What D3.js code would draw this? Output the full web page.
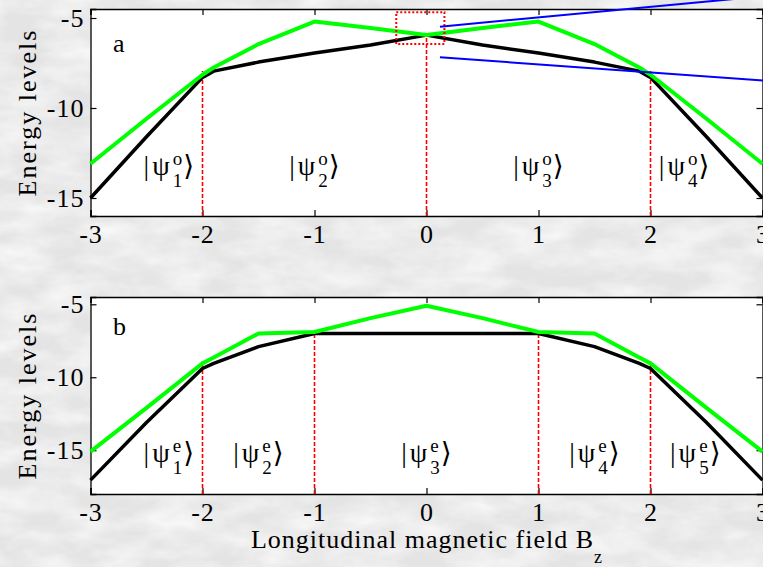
<!DOCTYPE html>
<html>
<head>
<meta charset="utf-8">
<script src="https://cdn.jsdelivr.net/npm/d3@7"></script>
<style>
  html, body { margin: 0; padding: 0; background: #e9e9e9; overflow: hidden; }
  svg { display: block; }
  text { font-family: "Liberation Serif", "Times New Roman", "DejaVu Serif", serif; fill: #000; }
</style>
</head>
<body>
<svg id="chart" width="763" height="567"></svg>
<script>
// ── Data ─────────────────────────────────────────────────────────
const BZ = [-3, -2.5, -2, -1.9, -1.5, -1, -0.5, 0, 0.5, 1, 1.5, 1.9, 2, 2.5, 3];

// panel a (odd states)
const ODD_BLACK = [-15, -11.6, -8.3, -7.95, -7.45, -6.95, -6.5, -5.95, -6.5, -6.95, -7.45, -7.95, -8.3, -11.6, -15];
const ODD_GREEN = [-13.1, -10.6, -8.15, -7.75, -6.45, -5.2, -5.55, -5.95, -5.55, -5.2, -6.45, -7.75, -8.15, -10.6, -13.1];
const ODD_BOUNDS     = [-2, 0, 2];
const ODD_BOUND_TOPS = [-7.95, -5.9, -7.95];
const ODD_KET_X      = [-2.3, -1, 1, 2.3];

// panel b (even states)
const EVEN_BLACK = [-17.05, -13.1, -9.4, -9.05, -7.9, -7.0, -7.0, -7.0, -7.0, -7.0, -7.9, -9.05, -9.4, -13.1, -17.05];
const EVEN_GREEN = [-15.1, -12.1, -9.05, -8.65, -7.0, -6.9, -5.95, -5.1, -5.95, -6.9, -7.0, -8.65, -9.05, -12.1, -15.1];
const EVEN_BOUNDS     = [-2, -1, 1, 2];
const EVEN_BOUND_TOPS = [-8.9, -6.85, -6.85, -8.9];
const EVEN_KET_X      = [-2.3, -1.5, 0, 1.5, 2.4];

const X_TICKS = [-3, -2, -1, 0, 1, 2, 3];
const Y_TICKS = [-5, -10, -15];

// zoom box + pointer lines on panel a  [B, E]
const ZOOM_BOX   = [[-0.27, -4.68], [0.16, -6.44]];
const BLUE_LINES = [
  [[0.12, -5.48], [3.3, -3.62]],
  [[0.12, -7.18], [3.2, -8.56]]
];

// ── Config ───────────────────────────────────────────────────────
const W = 763, H = 567;
const X_RANGE = [90.5, 762.5];
const FONT = 26;

const panels = [
  { letter: "a", yDomain: [-16, -4.5], yRange: [216, 9],
    black: ODD_BLACK, green: ODD_GREEN,
    bounds: ODD_BOUNDS, tops: ODD_BOUND_TOPS,
    ketX: ODD_KET_X, ketSup: "o", ketE: -13.7, letterPos: [-2.8, -6.9] },
  { letter: "b", yDomain: [-18, -4.5], yRange: [494, 297],
    black: EVEN_BLACK, green: EVEN_GREEN,
    bounds: EVEN_BOUNDS, tops: EVEN_BOUND_TOPS,
    ketX: EVEN_KET_X, ketSup: "e", ketE: -15.8, letterPos: [-2.8, -7.1] }
];

const svg = d3.select("#chart");

// ── Background texture ───────────────────────────────────────────
const defs = svg.append("defs");
const marble = defs.append("filter").attr("id", "marble")
  .attr("x", 0).attr("y", 0).attr("width", 1).attr("height", 1);
marble.append("feTurbulence")
  .attr("type", "fractalNoise")
  .attr("baseFrequency", "0.02 0.045")
  .attr("numOctaves", 4)
  .attr("seed", 11);
marble.append("feColorMatrix")
  .attr("type", "matrix")
  .attr("values", "0 0 0 0 1  0 0 0 0 1  0 0 0 0 1  0 0 0 1.3 -0.4");

svg.append("rect").attr("width", W).attr("height", H).attr("fill", "#e4e4e4");
svg.append("rect").attr("width", W).attr("height", H).attr("filter", "url(#marble)");

// ── Ket label  |ψ^s_n⟩ ──────────────────────────────────────────
function drawKet(parent, cx, baseline, sup, sub) {
  const g = parent.append("g");
  const main = g.append("text").attr("font-size", 28).attr("letter-spacing", 3).text("|ψ");
  const w1 = main.node().getComputedTextLength();
  const s1 = g.append("text").attr("x", w1).attr("y", -10).attr("font-size", 19).text(sup);
  const s2 = g.append("text").attr("x", w1).attr("y", 12).attr("font-size", 19).text(sub);
  const w2 = Math.max(s1.node().getComputedTextLength(), s2.node().getComputedTextLength());
  const br = g.append("text").attr("x", w1 + w2 + 1).attr("font-size", 28).text("\u27E9");
  const total = w1 + w2 + 1 + br.node().getComputedTextLength();
  g.attr("transform", `translate(${cx - total / 2},${baseline})`);
}

// ── Panels ───────────────────────────────────────────────────────
panels.forEach((p, pi) => {
  const x = d3.scaleLinear().domain([-3, 3]).range(X_RANGE);
  const y = d3.scaleLinear().domain(p.yDomain).range(p.yRange);
  const g = svg.append("g");

  const [x0, x1] = X_RANGE;
  const [yb, yt] = p.yRange;

  g.append("rect")
    .attr("x", x0).attr("y", yt)
    .attr("width", x1 - x0).attr("height", yb - yt)
    .attr("fill", "#fff");

  // axes with inward ticks on all sides
  const TICK = 6;
  const fmt = d => String(d);   // plain hyphen minus, as in the figure
  g.append("g").attr("transform", `translate(0,${yb})`)
    .call(d3.axisBottom(x).tickValues(X_TICKS).tickSize(-TICK).tickPadding(9).tickFormat(fmt));
  g.append("g").attr("transform", `translate(0,${yt})`)
    .call(d3.axisTop(x).tickValues(X_TICKS).tickSize(-TICK).tickFormat(""));
  g.append("g").attr("transform", `translate(${x0},0)`)
    .call(d3.axisLeft(y).tickValues(Y_TICKS).tickSize(-TICK).tickPadding(6).tickFormat(fmt));
  g.append("g").attr("transform", `translate(${x1},0)`)
    .call(d3.axisRight(y).tickValues(Y_TICKS).tickSize(-TICK).tickFormat(""));

  g.selectAll(".domain").attr("stroke", "#000").attr("stroke-width", 1.3);
  g.selectAll(".tick line").attr("stroke", "#000").attr("stroke-width", 1.2);
  g.selectAll(".tick text")
    .attr("font-size", FONT)
    .attr("letter-spacing", 1)
    .style("font-family", '"Liberation Serif", "Times New Roman", serif')
    .attr("fill", "#000");

  // red dashed state boundaries
  g.selectAll(".bound")
    .data(p.bounds)
    .join("line")
    .attr("class", "bound")
    .attr("x1", d => x(d)).attr("x2", d => x(d))
    .attr("y1", yb).attr("y2", (d, i) => y(p.tops[i]))
    .attr("stroke", "#ff0000")
    .attr("stroke-width", 1.6)
    .attr("stroke-dasharray", "4,2");

  // energy curves
  const line = d3.line().x((d, i) => x(BZ[i])).y(d => y(d));
  g.append("path").datum(p.black)
    .attr("d", line).attr("fill", "none")
    .attr("stroke", "#000").attr("stroke-width", 3.5).attr("stroke-linejoin", "round");
  g.append("path").datum(p.green)
    .attr("d", line).attr("fill", "none")
    .attr("stroke", "#00ff00").attr("stroke-width", 4).attr("stroke-linejoin", "round");

  // panel letter
  g.append("text")
    .attr("x", x(p.letterPos[0])).attr("y", y(p.letterPos[1]))
    .attr("font-size", FONT)
    .text(p.letter);

  // state labels
  p.ketX.forEach((b, i) => drawKet(g, x(b), y(p.ketE), p.ketSup, String(i + 1)));

  // y title
  const yc = (yb + yt) / 2;
  g.append("text")
    .attr("transform", `translate(36,${yc}) rotate(-90)`)
    .attr("text-anchor", "middle")
    .attr("font-size", FONT)
    .attr("letter-spacing", 2)
    .text("Energy levels");

  // zoom marker only on panel a
  if (pi === 0) {
    const [c0, c1] = ZOOM_BOX;
    g.append("rect")
      .attr("x", x(c0[0])).attr("y", y(c0[1]))
      .attr("width", x(c1[0]) - x(c0[0])).attr("height", y(c1[1]) - y(c0[1]))
      .attr("fill", "none")
      .attr("stroke", "#ff0000").attr("stroke-width", 2)
      .attr("stroke-dasharray", "2,2");
    g.selectAll(".pointer")
      .data(BLUE_LINES)
      .join("line")
      .attr("class", "pointer")
      .attr("x1", d => x(d[0][0])).attr("y1", d => y(d[0][1]))
      .attr("x2", d => x(d[1][0])).attr("y2", d => y(d[1][1]))
      .attr("stroke", "#0000ff").attr("stroke-width", 2);
  }
});

// ── x title ──────────────────────────────────────────────────────
const xt = svg.append("text")
  .attr("x", 427).attr("y", 548)
  .attr("text-anchor", "middle")
  .attr("font-size", FONT)
  .attr("letter-spacing", 1);
xt.append("tspan").text("Longitudinal magnetic field B");
xt.append("tspan").attr("dy", 15).attr("font-size", 18).text("z");
</script>
</body>
</html>
